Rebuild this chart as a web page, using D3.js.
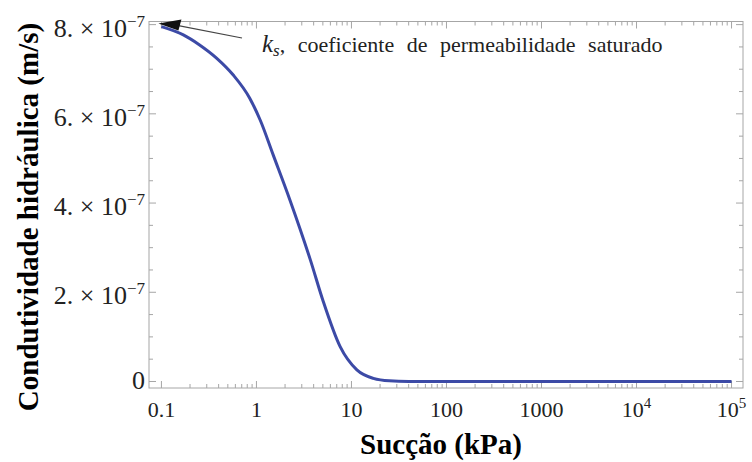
<!DOCTYPE html>
<html>
<head>
<meta charset="utf-8">
<script src="https://cdn.jsdelivr.net/npm/d3@7"></script>
<style>
  body { margin: 0; background: #fff; }
  text { font-family: "Liberation Serif", "Times New Roman", serif; fill: #222; }
  .title { font-weight: bold; fill: #000; }
</style>
</head>
<body>
<script>
//Width and height
var w = 752;
var h = 462;

// data: suction (kPa) and hydraulic conductivity (m/s)
var suction = [0.1, 0.17, 0.25, 0.38, 0.57, 0.85, 1.1, 1.5, 2.25, 3.7, 5, 7.6, 11.4, 17, 25, 40, 100, 1000, 1e4, 1e5];
var conductivity = [7.955e-7, 7.77e-7, 7.55e-7, 7.25e-7, 6.87e-7, 6.35e-7, 5.85e-7, 5.08e-7, 4.07e-7, 2.72e-7,
                    1.82e-7, 0.78e-7, 0.26e-7, 0.07e-7, 0.015e-7, 0.002e-7, 0, 0, 0, 0];

// tick labels
var xTickValues = [0.1, 1, 10, 100, 1000, 1e4, 1e5];
var xTickLabels = [["0.1", ""], ["1", ""], ["10", ""], ["100", ""], ["1000", ""], ["10", "4"], ["10", "5"]];
var yTickValues = [0, 2e-7, 4e-7, 6e-7, 8e-7];
var yTickLabels = ["0", "2.", "4.", "6.", "8."];
var yMinor = [0.5e-7, 1e-7, 1.5e-7, 2.5e-7, 3e-7, 3.5e-7, 4.5e-7, 5e-7, 5.5e-7, 6.5e-7, 7e-7, 7.5e-7];

// plot frame
var pLeft = 149, pRight = 743, pTop = 21.5, pBottom = 388;

var x = d3.scaleLog()
          .domain([0.074, 1.32e5])
          .range([pLeft, pRight]);

var y = d3.scaleLinear()
          .domain([-0.146e-7, 8.07e-7])
          .range([pBottom, pTop]);

var svg = d3.select("body")
            .append("svg")
            .attr("width", w)
            .attr("height", h);

// minor ticks on the log axis: 2..9 times every power of ten
var xMinor = [];
for (var k = -1; k < 5; k++) {
    for (var m = 2; m <= 9; m++) xMinor.push(m * Math.pow(10, k));
}

var frameColor = "#a6a6a6";

// frame
svg.append("rect")
   .attr("x", pLeft)
   .attr("y", pTop)
   .attr("width", pRight - pLeft)
   .attr("height", pBottom - pTop)
   .style("fill", "none")
   .style("stroke", frameColor)
   .style("stroke-width", 1);

// inward ticks on all four sides
function xTicks(vals, len) {
    svg.append("g").selectAll("line")
       .data(vals).enter().append("line")
       .attr("x1", function(d){ return x(d); }).attr("x2", function(d){ return x(d); })
       .attr("y1", pBottom).attr("y2", pBottom - len)
       .style("stroke", frameColor);
    svg.append("g").selectAll("line")
       .data(vals).enter().append("line")
       .attr("x1", function(d){ return x(d); }).attr("x2", function(d){ return x(d); })
       .attr("y1", pTop).attr("y2", pTop + len)
       .style("stroke", frameColor);
}
function yTicks(vals, len) {
    svg.append("g").selectAll("line")
       .data(vals).enter().append("line")
       .attr("y1", function(d){ return y(d); }).attr("y2", function(d){ return y(d); })
       .attr("x1", pLeft).attr("x2", pLeft + len)
       .style("stroke", frameColor);
    svg.append("g").selectAll("line")
       .data(vals).enter().append("line")
       .attr("y1", function(d){ return y(d); }).attr("y2", function(d){ return y(d); })
       .attr("x1", pRight).attr("x2", pRight - len)
       .style("stroke", frameColor);
}
xTicks(xTickValues, 7);
xTicks(xMinor, 4);
yTicks(yTickValues, 7);
yTicks(yMinor, 4);

// x tick labels
var xl = svg.append("g").selectAll("text")
            .data(xTickValues).enter().append("text")
            .attr("x", function(d){ return x(d); })
            .attr("y", 417)
            .attr("text-anchor", "middle")
            .style("font-size", "22px");
xl.append("tspan").text(function(d, i){ return xTickLabels[i][0]; });
xl.append("tspan")
  .attr("dy", "-9")
  .style("font-size", "15px")
  .text(function(d, i){ return xTickLabels[i][1]; });

// y tick labels
var yl = svg.append("g").selectAll("text")
            .data(yTickValues).enter().append("text")
            .attr("x", 145)
            .attr("y", function(d){ return y(d) + (d === 0 ? 8 : 12); })
            .attr("text-anchor", "end")
            .style("font-size", "26px");
yl.each(function(d, i){
    var t = d3.select(this);
    if (d === 0) { t.text("0"); return; }
    t.append("tspan").text(yTickLabels[i] + " \u00d7 10");
    t.append("tspan").attr("dy", "-10").style("font-size", "17px").text("\u22127");
});

// the curve
var line = d3.line()
             .x(function(d){ return x(d[0]); })
             .y(function(d){ return y(d[1]); })
             .curve(d3.curveMonotoneX);

svg.append("path")
   .datum(d3.zip(suction, conductivity))
   .attr("d", line)
   .style("fill", "none")
   .style("stroke", "#3c4aa6")
   .style("stroke-width", 3);

// annotation arrow pointing at k_s
var tip = [x(suction[0]) - 3, y(8e-7) - 1];
svg.append("line")
   .attr("x1", 242).attr("y1", 38)
   .attr("x2", tip[0] + 20).attr("y2", tip[1] + 2)
   .style("stroke", "#444")
   .style("stroke-width", 1.2);
svg.append("path")
   .attr("d", "M" + tip[0] + "," + tip[1] + "L" + (tip[0] + 23) + "," + (tip[1] - 4) + "L" + (tip[0] + 20) + "," + (tip[1] + 7) + "Z")
   .style("fill", "#111");

var ann = svg.append("text")
             .attr("x", 262)
             .attr("y", 52)
             .style("font-size", "22px")
             .style("word-spacing", "7px");
ann.append("tspan").style("font-style", "italic").style("font-size", "25px").text("k");
ann.append("tspan").style("font-style", "italic").style("font-size", "17px").attr("dy", "4").text("s");
ann.append("tspan").attr("dy", "-4").text(", coeficiente de permeabilidade saturado");

// axis titles
svg.append("text")
   .attr("class", "title")
   .attr("x", 441)
   .attr("y", 454)
   .attr("text-anchor", "middle")
   .style("font-size", "29px")
   .text("Sucção (kPa)");

svg.append("text")
   .attr("class", "title")
   .attr("transform", "translate(38," + 217 + ") rotate(-90)")
   .attr("text-anchor", "middle")
   .style("font-size", "29px")
   .text("Condutividade hidráulica (m/s)");
</script>
</body>
</html>
